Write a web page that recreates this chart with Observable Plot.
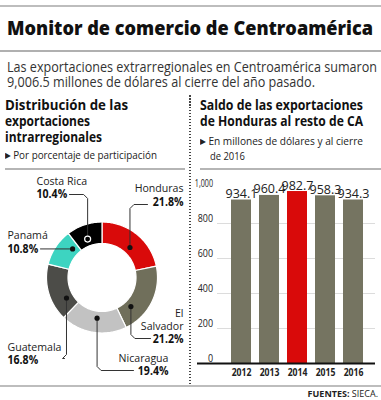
<!DOCTYPE html>
<html>
<head>
<meta charset="utf-8">
<script src="https://cdn.jsdelivr.net/npm/d3@7"></script>
<script src="https://cdn.jsdelivr.net/npm/@observablehq/plot@0.6"></script>
<style>
  html, body { margin: 0; padding: 0; background: #fff; }
  #page { position: relative; width: 381px; height: 400px; overflow: hidden; font-family: "Open Sans", sans-serif; color: #222; }
  .t { position: absolute; white-space: nowrap; }
  .t span.ln { display: inline-block; transform-origin: 0 50%; }
  .rule { position: absolute; }
  .abs { position: absolute; }
</style>
</head>
<body>
<div id="page"></div>
<script>
// ---------- data ----------
const countries = ["Honduras", "El Salvador", "Nicaragua", "Guatemala", "Panamá", "Costa Rica"];
const shares = [21.8, 21.2, 19.4, 16.8, 10.8, 10.4];
const years = ["2012", "2013", "2014", "2015", "2016"];
const exportsHN = [934.1, 960.4, 982.7, 958.3, 934.3];
const yTicks = [0, 200, 400, 600, 800, 1000];
const gridTicks = [200, 400, 600, 800];
const highlightYear = "2014";

// ---------- style ----------
const sliceColors = ["#d90a0a", "#706f5b", "#c2c2c2", "#4c4c48", "#3dd4c1", "#000000"];
const barColor = "#757461";
const barHighlight = "#d90a0a";

const page = document.getElementById("page");

function rule(x, y, w, h, color) {
  const d = document.createElement("div");
  d.className = "rule";
  Object.assign(d.style, {left: x + "px", top: y + "px", width: w + "px", height: h + "px", background: color});
  page.appendChild(d);
}
const fits = [];
// block of lines: lines = [[html, width, indent], ...]; baseline of first line; lh = line pitch
function block(lines, x, baseline, fs, lh, opts = {}) {
  const d = document.createElement("div");
  d.className = "t";
  d.style.fontSize = fs + "px";
  d.style.lineHeight = lh + "px";
  d.style.left = x + "px";
  d.style.top = (baseline - ((lh - fs) / 2 + 0.888 * fs)) + "px";
  d.style.fontWeight = opts.weight || 400;
  d.style.color = opts.color || "#222";
  lines.forEach(([html, w, indent], i) => {
    const s = document.createElement("span");
    s.className = "ln";
    s.innerHTML = html;
    if (indent) s.style.marginLeft = indent + "px";
    d.appendChild(s);
    if (i < lines.length - 1) d.appendChild(document.createElement("br"));
    if (w) fits.push([s, w]);
  });
  page.appendChild(d);
  return d;
}
const tri = "<span style='font-size:8px;position:relative;top:-1px'>▶</span> ";

// ---------- frame & texts ----------
rule(0, 5, 381, 2, "#bdbdbd");
block([["Monitor de comercio de Centroamérica", 366]], 7, 36, 20, 24, {weight: 800, color: "#111"});
rule(0, 50, 381, 2, "#b0b0b0");
block([["Las exportaciones extrarregionales en Centroamérica sumaron", 370],
       ["9,006.5 millones de dólares al cierre del año pasado.", 308]], 7, 72, 14.5, 15, {color: "#333"});

block([["Distribución de las", 123], ["exportaciones", 85], ["intrarregionales", 97]], 5, 110, 15, 16, {weight: 700, color: "#111"});
block([[tri + "Por porcentaje de participación", 152]], 5, 160, 10.5, 13, {color: "#222"});
rule(5, 168, 180, 2, "#b5b5b5");

block([["Saldo de las exportaciones", 163], ["de Honduras al resto de CA", 163]], 200, 110, 15, 16, {weight: 700, color: "#111"});
block([[tri + "En millones de dólares y al cierre", 163], ["de 2016", 35, 10]], 200, 145, 10.5, 14, {color: "#222"});
rule(200, 168, 181, 2, "#b5b5b5");

const sep = document.createElement("div");
sep.className = "abs";
Object.assign(sep.style, {left: "189px", top: "95px", height: "290px", width: "2px",
  background: "repeating-linear-gradient(to bottom, #444 0px, #444 1.5px, transparent 1.5px, transparent 3px)"});
page.appendChild(sep);

rule(0, 385, 381, 2, "#bdbdbd");
const foot = document.createElement("div");
foot.className = "t";
Object.assign(foot.style, {right: "3px", top: (397 - 0.888 * 9) + "px", fontSize: "9px", lineHeight: "9px", color: "#222"});
foot.innerHTML = "<b>FUENTES:</b> SIECA.";
page.appendChild(foot);

// ---------- donut ----------
const L = { // layout of the donut panel (pixels inside its own svg)
  cx: 101.5, cy: 111, ro: 55.5, ri: 34, dotR: 41, corner: 4,
  labels: {
    "Honduras":    {frac: .55, turnY: 38,  endX: 147, anchor: "end",   lx: 183, ly: [22, 36]},
    "El Salvador": {frac: .75, turnY: 172, endX: 150, anchor: "end",   lx: 183, ly: [147, 160, 173], lines: ["El", "Salvador"]},
    "Nicaragua":   {frac: .47, turnY: 204, endX: 133, anchor: "end",   lx: 168, ly: [192, 205]},
    "Guatemala":   {frac: .27, turnY: 192, endX: 64,  anchor: "start", lx: 7,   ly: [181, 194]},
    "Panamá":      {frac: .78, turnY: null, endX: 40, anchor: "start", lx: 7,   ly: [69, 83]},
    "Costa Rica":  {frac: .45, turnY: 28,  endX: 69,  anchor: "start", lx: 36,  ly: [15, 28]}
  }
};
const total = d3.sum(shares);
let acc = 0;
const slices = countries.map((name, i) => {
  const a0 = acc / total * 2 * Math.PI;
  acc += shares[i];
  const a1 = acc / total * 2 * Math.PI;
  return {name, share: shares[i], a0, a1};
});
const P = (a, r) => ({x: L.cx + r * Math.sin(a), y: L.cy - r * Math.cos(a)});
const polys = [];
for (const s of slices) {
  const n = Math.max(4, Math.ceil((s.a1 - s.a0) / (Math.PI / 180)));
  for (let k = 0; k <= n; k++) polys.push({name: s.name, ...P(s.a0 + (s.a1 - s.a0) * k / n, L.ro)});
  for (let k = n; k >= 0; k--) polys.push({name: s.name, ...P(s.a0 + (s.a1 - s.a0) * k / n, L.ri)});
}
const dots = slices.map(s => {
  const lab = L.labels[s.name];
  return {name: s.name, ...P(s.a0 + (s.a1 - s.a0) * lab.frac, L.dotR)};
});
const leaders = [];
for (const d of dots) {
  const lab = L.labels[d.name];
  const pts = [{x: d.x, y: d.y}];
  if (lab.turnY != null) {
    const sy = Math.sign(lab.turnY - d.y), sx = Math.sign(lab.endX - d.x);
    pts.push({x: d.x, y: lab.turnY - sy * L.corner});
    pts.push({x: d.x + sx * L.corner, y: lab.turnY});
    pts.push({x: lab.endX, y: lab.turnY});
  } else {
    pts.push({x: lab.endX, y: d.y});
  }
  for (const p of pts) leaders.push({name: d.name, ...p});
}
const labelRows = [];
slices.forEach(s => {
  const lab = L.labels[s.name];
  const lines = lab.lines || [s.name];
  lines.forEach((t, j) => labelRows.push({x: lab.lx, y: lab.ly[j], text: t, anchor: lab.anchor, bold: false}));
  labelRows.push({x: lab.lx, y: lab.ly[lines.length], text: s.share.toFixed(1) + "%", anchor: lab.anchor, bold: true});
});

const donut = Plot.plot({
  width: 188, height: 219, margin: 0,
  style: {fontFamily: "'Open Sans', sans-serif", background: "transparent", overflow: "visible", color: "#222"},
  x: {type: "linear", domain: [0, 188], range: [0, 188], axis: null},
  y: {type: "linear", domain: [0, 219], range: [0, 219], axis: null},
  color: {domain: countries, range: sliceColors},
  marks: [
    Plot.line(polys, {x: "x", y: "y", z: "name", fill: "name", stroke: "#fff", strokeWidth: 1.2, curve: "linear-closed"}),
    Plot.line(leaders, {x: "x", y: "y", z: "name", stroke: "#333", strokeWidth: 1, curve: "linear"}),
    Plot.dot(dots.filter(d => d.name !== "Costa Rica"), {x: "x", y: "y", r: 2.6, fill: "#111", stroke: "none"}),
    Plot.dot(dots.filter(d => d.name === "Costa Rica"), {x: "x", y: "y", r: 3, fill: "#000", stroke: "#fff", strokeWidth: 1.2}),
    ...["start", "end"].flatMap(anchor => [
      Plot.text(labelRows.filter(d => d.anchor === anchor && !d.bold), {x: "x", y: "y", text: "text", textAnchor: anchor, fontSize: 11.5, fill: "#222"}),
      Plot.text(labelRows.filter(d => d.anchor === anchor && d.bold), {x: "x", y: "y", text: "text", textAnchor: anchor, fontSize: 11.5, fontWeight: 700, fill: "#111"})
    ])
  ]
});
donut.style.position = "absolute";
donut.style.left = "0px";
donut.style.top = "166px";
page.appendChild(donut);

// ---------- bars ----------
const bars = years.map((year, i) => ({year, value: exportsHN[i]}));
const chart = Plot.plot({
  width: 191, height: 205,
  marginLeft: 31.5, marginRight: 9.5, marginTop: 13, marginBottom: 17,
  style: {fontFamily: "'Open Sans', sans-serif", background: "transparent", overflow: "visible", color: "#222"},
  x: {domain: years, padding: 0.3, axis: null},
  y: {domain: [0, 1000], axis: null},
  color: {type: "identity"},
  marks: [
    Plot.ruleY(gridTicks, {stroke: "#dcdcdc", strokeWidth: 1, insetLeft: -4.5, insetRight: -3.5}),
    Plot.barY(bars, {x: "year", y: "value", fill: d => d.year === highlightYear ? barHighlight : barColor}),
    Plot.ruleY([0], {stroke: "#111", strokeWidth: 2, insetLeft: -24.5, insetRight: -3.5}),
    Plot.text(bars, {x: "year", y: "value", text: d => d.value.toFixed(1), dy: -6, fontSize: 12.5, fill: "#222", ariaLabel: "value label"}),
    Plot.axisX({tickSize: 0, tickPadding: 5, fontSize: 10.5, fontWeight: 700, fill: "#222", label: null}),
    Plot.axisY(yTicks, {tickSize: 0, tickPadding: 9, dy: -5, fontSize: 10.5, fill: "#222", tickFormat: d3.format(","), label: null})
  ]
});
chart.style.position = "absolute";
chart.style.left = "190px";
chart.style.top = "175px";
page.appendChild(chart);

// narrow the chart's numerals to the reference's condensed face
function condense(root, selector, factor) {
  root.querySelectorAll(selector).forEach(t => {
    const w = t.getComputedTextLength();
    const f = typeof factor === "function" ? factor(t.textContent) : factor;
    if (w > 0) { t.setAttribute("textLength", (w * f).toFixed(2)); t.setAttribute("lengthAdjust", "spacingAndGlyphs"); }
  });
}
condense(chart, 'g[aria-label="y-axis tick label"] text', s => s.length > 3 ? 0.68 : 0.85);
condense(chart, 'g[aria-label="x-axis tick label"] text', 0.82);
condense(chart, 'g[aria-label="value label"] text', 0.8);
condense(donut, 'g[aria-label="text"] text', 0.92);

// ---------- fit header lines to the measured widths ----------
for (const [el, w] of fits) {
  const nat = el.getBoundingClientRect().width;
  if (nat > 0) el.style.transform = `scaleX(${w / nat})`;
}
</script>
</body>
</html>
